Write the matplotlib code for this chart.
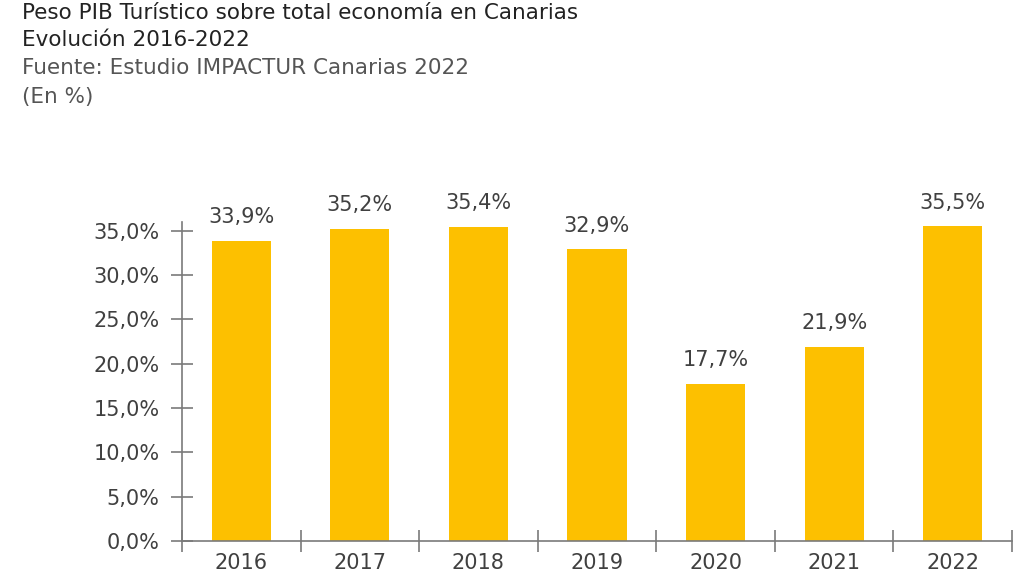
import matplotlib.pyplot as plt
import numpy as np

# Datos del grafico
years = ["2016", "2017", "2018", "2019", "2020", "2021", "2022"]
peso_pib = [33.9, 35.2, 35.4, 32.9, 17.7, 21.9, 35.5]
y_ticks = [0, 5, 10, 15, 20, 25, 30, 35]

bar_color = "#FDC000"
text_color = "#404040"
axis_color = "#7a7a7a"

plt.rcParams["font.family"] = ["DejaVu Sans"]

fig = plt.figure(figsize=(10.24, 5.76), dpi=100)
ax = fig.add_axes([0.1777, 0.0608, 0.8106, 0.5538])

x = np.arange(len(years))
ax.bar(x, peso_pib, width=0.5, color=bar_color, zorder=2)

# Etiquetas de valor
for xi, v in zip(x, peso_pib):
    ax.annotate(f"{v:.1f}%".replace(".", ","), (xi, v), xytext=(0, 10),
                textcoords="offset points", ha="center", va="bottom",
                fontsize=15, color=text_color)

ax.set_xlim(-0.5, len(years) - 0.5)
ax.set_ylim(0, 36)

ax.set_yticks(y_ticks)
ax.set_yticklabels([f"{t:.1f}%".replace(".", ",") for t in y_ticks])
ax.set_xticks(x)
ax.set_xticklabels(years)
ax.set_xticks(np.arange(len(years) + 1) - 0.5, minor=True)

ax.tick_params(axis="y", direction="inout", length=16, width=1.2,
               color=axis_color, labelsize=15, labelcolor=text_color, pad=8)
ax.tick_params(axis="x", which="major", length=0, labelsize=15,
               labelcolor=text_color, pad=9)
ax.tick_params(axis="x", which="minor", direction="inout", length=16,
               width=1.2, color=axis_color)

for side in ["top", "right"]:
    ax.spines[side].set_visible(False)
for side in ["left", "bottom"]:
    ax.spines[side].set_color(axis_color)
    ax.spines[side].set_linewidth(1.2)
    ax.spines[side].set_zorder(3)

# Titulos
fig.text(0.021, 0.978, "Peso PIB Turístico sobre total economía en Canarias",
         fontsize=15.5, color="#222222", va="center", ha="left")
fig.text(0.021, 0.930, "Evolución 2016-2022", fontsize=15.5,
         color="#222222", va="center", ha="left")
fig.text(0.021, 0.882, "Fuente: Estudio IMPACTUR Canarias 2022", fontsize=15.5,
         color="#555555", va="center", ha="left")
fig.text(0.021, 0.831, "(En %)", fontsize=15.5, color="#555555",
         va="center", ha="left")

fig.savefig("out.png", dpi=100)
